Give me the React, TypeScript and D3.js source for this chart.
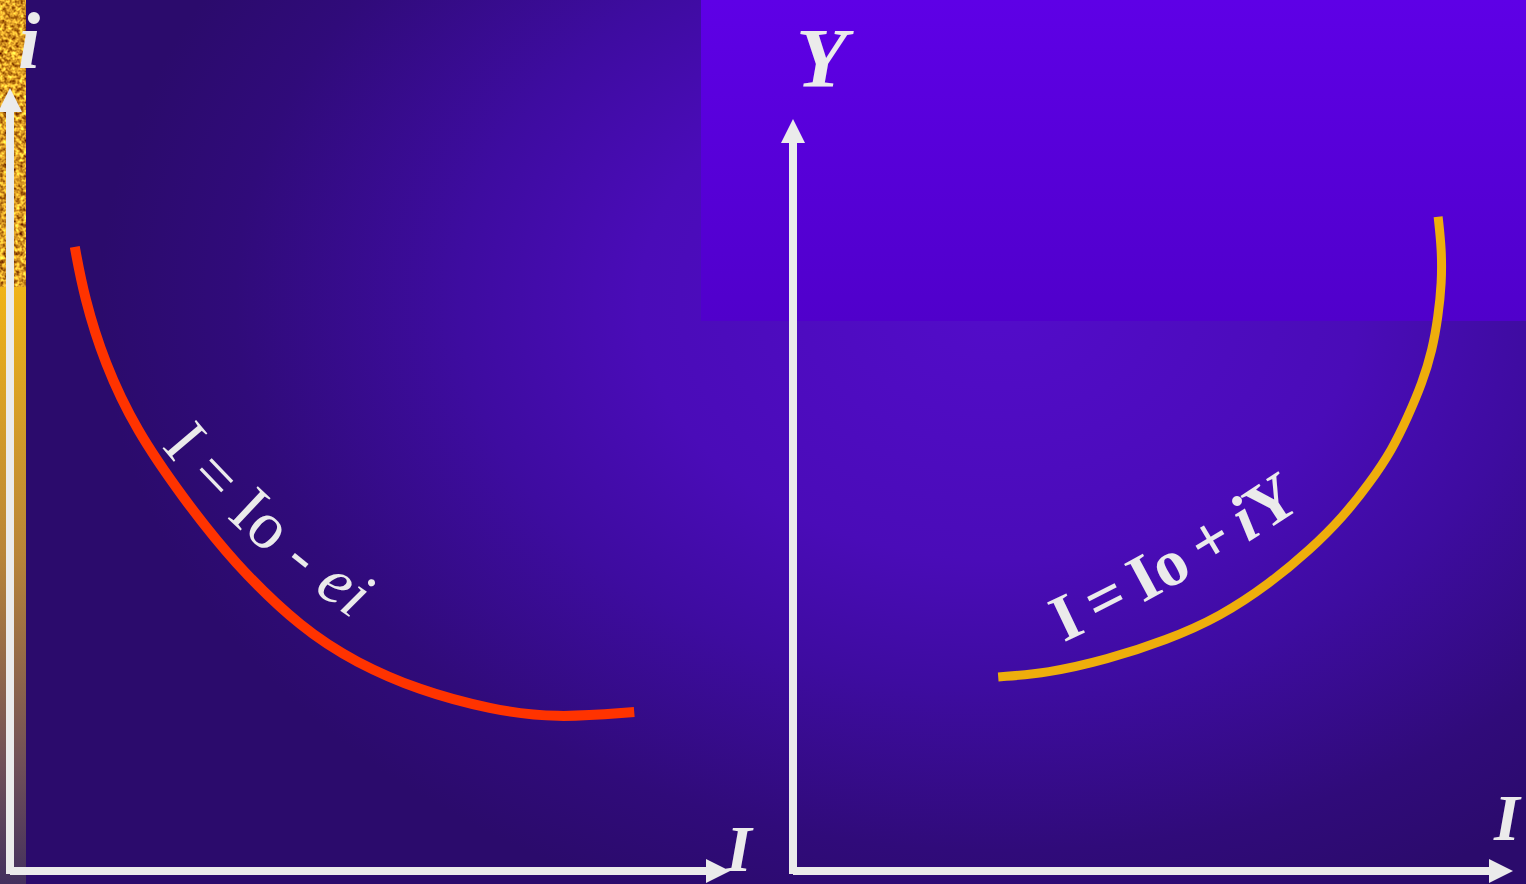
import React from "react";
import * as d3 from "d3";

const W = 1526;
const H = 884;

// left panel: I along x, i along y (0..100 chart units)
const leftX = [9.0, 10.3, 13.1, 17.5, 23.9, 31.1, 40.7, 48.1, 56.7, 66.8, 75.8, 86.7];
const leftY = [79.7, 73.3, 64.9, 56.3, 47.8, 39.3, 30.8, 26.6, 23.1, 20.6, 19.5, 20.3];

// right panel: I along x, Y along y, listed from the lower end upward
const rightX = [28.5, 35.3, 43.6, 51.9, 59.3, 66.3, 71.8, 76.4, 80.1, 83.2, 85.4, 87.4, 88.8, 89.6, 90.1, 90.1, 89.6];
const rightY = [25.8, 26.3, 28.1, 30.7, 33.8, 38.3, 42.7, 47.1, 51.6, 56.0, 60.4, 64.9, 69.3, 73.7, 78.2, 82.6, 87.0];

const axisLabels = ["i", "I", "Y", "I"];
const leftEquation = ["I = Io - ", "ei"];
const rightEquation = ["I = Io + ", "i", "Y"];

const AXIS = "#ebebeb";
const SERIF = "'Liberation Serif', 'Times New Roman', serif";

// scales: origin at the corner of each pair of axes, 100 = arrow tip
const xL = d3.scaleLinear().domain([0, 100]).range([10, 730]);
const yL = d3.scaleLinear().domain([0, 100]).range([871, 88]);
const xR = d3.scaleLinear().domain([0, 100]).range([793, 1513]);
const yR = d3.scaleLinear().domain([0, 100]).range([871, 119]);

const ARROW = 24;

function Axes({ x, y }) {
  const x0 = x(0), y0 = y(0);
  const xt = x(100), yt = y(100);
  const h = ARROW / 2;
  return (
    <g fill={AXIS}>
      <rect x={x0 - 4} y={yt + ARROW - 1} width={8} height={y0 + 3 - (yt + ARROW - 1)} />
      <rect x={x0} y={y0 - 4} width={xt - ARROW + 1 - x0} height={8} />
      <path d={`M${x0},${yt}L${x0 + h},${yt + ARROW}L${x0 - h},${yt + ARROW}Z`} />
      <path d={`M${xt},${y0}L${xt - ARROW},${y0 - h}L${xt - ARROW},${y0 + h}Z`} />
    </g>
  );
}

export default function App() {
  const lineL = d3
    .line<number>()
    .x((d, i) => xL(leftX[i]))
    .y((d, i) => yL(leftY[i]))
    .curve(d3.curveBasis);
  const lineR = d3
    .line<number>()
    .x((d, i) => xR(rightX[i]))
    .y((d, i) => yR(rightY[i]))
    .curve(d3.curveBasis);

  const dL = lineL(leftX) || "";
  const dR = lineR(rightX) || "";

  // baselines for the two equations, placed in chart units beside each curve
  const pathL = d3.path();
  pathL.moveTo(xL(21), yL(54.2));
  pathL.quadraticCurveTo(xL(32.3), yL(41.5), xL(50.5), yL(30.3));
  const pathR = d3.path();
  pathR.moveTo(xR(37.6), yR(30.4));
  pathR.quadraticCurveTo(xR(55), yR(38.2), xR(71.2), yR(48.7));

  return (
    <svg
      width={W}
      height={H}
      style={{ position: "absolute", left: 0, top: 0, display: "block" }}
    >
      <defs>
        <radialGradient
          id="bg"
          gradientUnits="userSpaceOnUse"
          cx={1000}
          cy={300}
          r={900}
          gradientTransform="translate(1000,300) scale(1,0.72) translate(-1000,-300)"
        >
          <stop offset="0" stopColor="#530cca" />
          <stop offset="0.4" stopColor="#4a0cb8" />
          <stop offset="0.6" stopColor="#3e0ca0" />
          <stop offset="0.85" stopColor="#300b7a" />
          <stop offset="1" stopColor="#2b0b6c" />
        </radialGradient>
        <linearGradient id="box" x1="0" y1="0" x2="0" y2="1">
          <stop offset="0" stopColor="#5e00e6" />
          <stop offset="1" stopColor="#5000cb" />
        </linearGradient>
        <linearGradient id="strip" x1="0" y1="0" x2="0" y2="1">
          <stop offset="0" stopColor="#f0b418" />
          <stop offset="0.45" stopColor="#b88438" />
          <stop offset="0.8" stopColor="#705058" />
          <stop offset="1" stopColor="#43305e" />
        </linearGradient>
        <filter
          id="tex"
          x="0"
          y="0"
          width="26"
          height="287"
          filterUnits="userSpaceOnUse"
          colorInterpolationFilters="sRGB"
        >
          <feTurbulence type="fractalNoise" baseFrequency="0.25" numOctaves="3" seed="7" />
          <feColorMatrix
            type="matrix"
            values="1.3 0 0 0 0.2  1.4 0 0 0 -0.1  0.6 0 0 0 -0.16  0 0 0 0 1"
          />
        </filter>
        <path id="eqL" d={pathL.toString()} />
        <path id="eqR" d={pathR.toString()} />
      </defs>

      <rect width={W} height={H} fill="url(#bg)" />
      <rect x={701} y={0} width={W - 701} height={321} fill="url(#box)" />

      {/* gold strip on the left edge */}
      <rect x={0} y={0} width={26} height={287} filter="url(#tex)" />
      <rect x={0} y={287} width={26} height={H - 287} fill="url(#strip)" />

      <Axes x={xL} y={yL} />
      <Axes x={xR} y={yR} />

      <path d={dL} fill="none" stroke="#ff3300" strokeWidth={10} />
      <path d={dR} fill="none" stroke="#eeae0c" strokeWidth={9} />

      <g fill={AXIS} fontFamily={SERIF} fontWeight="bold" fontStyle="italic">
        <text x={18} y={68} fontSize={80}>{axisLabels[0]}</text>
        <text x={726} y={871} fontSize={66}>{axisLabels[1]}</text>
        <text x={796} y={87} fontSize={84}>{axisLabels[2]}</text>
        <text x={1494} y={840} fontSize={66}>{axisLabels[3]}</text>
      </g>

      <text fill={AXIS} fontFamily={SERIF} fontSize={67} letterSpacing={0.5}>
        <textPath href="#eqL">
          <tspan>{leftEquation[0]}</tspan>
          <tspan fontStyle="italic">{leftEquation[1]}</tspan>
        </textPath>
      </text>

      <text fill={AXIS} fontFamily={SERIF} fontSize={66} fontWeight="bold" wordSpacing={-4}>
        <textPath href="#eqR">
          <tspan>{rightEquation[0]}</tspan>
          <tspan fontStyle="italic">{rightEquation[1]}</tspan>
          <tspan>{rightEquation[2]}</tspan>
        </textPath>
      </text>
    </svg>
  );
}
